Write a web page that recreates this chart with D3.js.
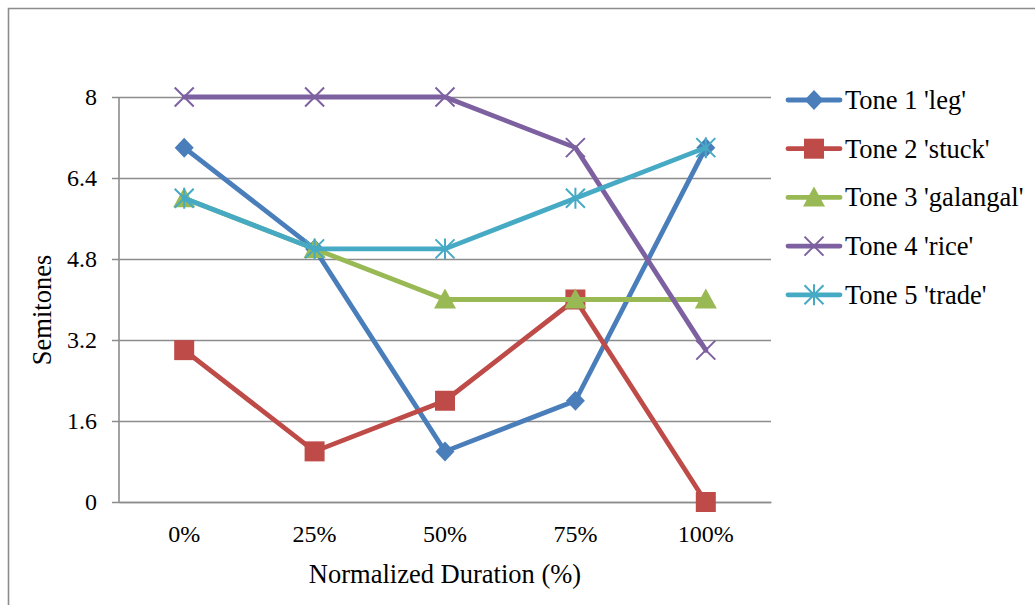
<!DOCTYPE html>
<html>
<head>
<meta charset="utf-8">
<script src="https://cdn.jsdelivr.net/npm/d3@7"></script>
<style>
  html, body { margin: 0; padding: 0; background: #fff; }
  svg { display: block; font-family: "Liberation Serif", "Times New Roman", serif; }
</style>
</head>
<body>
<svg id="chart" width="1035" height="605"></svg>
<script>
// Pitch contours of five tones, in semitones, at normalized duration points
const categories = ["0%", "25%", "50%", "75%", "100%"];
const seriesNames = ["Tone 1 'leg'", "Tone 2 'stuck'", "Tone 3 'galangal'", "Tone 4 'rice'", "Tone 5 'trade'"];
const tone1 = [7, 5, 1, 2, 7];
const tone2 = [3, 1, 2, 4, 0];
const tone3 = [6, 5, 4, 4, 4];
const tone4 = [8, 8, 8, 7, 3];
const tone5 = [6, 5, 5, 6, 7];
const yTicks = [0, 1.6, 3.2, 4.8, 6.4, 8];

const colors = ["#4A7EBB", "#BE4B48", "#98B954", "#7D60A0", "#46AAC5"];
const markers = ["diamond", "square", "triangle", "x", "star"];
const series = [tone1, tone2, tone3, tone4, tone5].map((values, i) => ({
  name: seriesNames[i], values, color: colors[i], marker: markers[i]
}));

const svg = d3.select("#chart");
const plot = { left: 119, right: 771, top: 97, bottom: 502 };
const axisGrey = "#8c8c8c";

// Outer chart frame
svg.append("path")
  .attr("d", "M8.5,610 V8.5 H1040")
  .attr("fill", "none").attr("stroke", axisGrey).attr("stroke-width", 1.6);

const x = d3.scaleBand().domain(categories).range([plot.left, plot.right]);
const y = d3.scaleLinear().domain([0, 8]).range([plot.bottom, plot.top]);
const cx = c => x(c) + x.bandwidth() / 2;

// Horizontal gridlines with short ticks left of the axis
const yAxis = d3.axisLeft(y).tickValues(yTicks).tickFormat(d3.format("~g"))
  .tickSize(-(plot.right - plot.left));
const gy = svg.append("g").attr("transform", `translate(${plot.left},0)`).call(yAxis);
gy.select(".domain").remove();
gy.selectAll(".tick line").attr("stroke", axisGrey).attr("stroke-width", 1.6)
  .attr("x1", -7);
gy.selectAll(".tick text").attr("font-size", 24).attr("fill", "#000")
  .attr("font-family", "Liberation Serif").attr("x", -22).attr("dy", "0.33em");

// Vertical value axis line
svg.append("line")
  .attr("x1", plot.left).attr("x2", plot.left)
  .attr("y1", plot.top).attr("y2", plot.bottom)
  .attr("stroke", axisGrey).attr("stroke-width", 1.6);

// Category axis
const xAxis = d3.axisBottom(x).tickSize(0);
const gx = svg.append("g").attr("transform", `translate(0,${plot.bottom})`).call(xAxis);
gx.select(".domain").attr("stroke", axisGrey).attr("stroke-width", 1.6);
gx.selectAll(".tick text").attr("font-size", 24).attr("fill", "#000")
  .attr("font-family", "Liberation Serif").attr("y", 40).attr("dy", 0);

// Axis titles
svg.append("text").attr("x", 445).attr("y", 583).attr("text-anchor", "middle")
  .attr("font-size", 26.5).text("Normalized Duration (%)");
svg.append("text").attr("transform", "translate(51,310) rotate(-90)")
  .attr("text-anchor", "middle").attr("font-size", 26.5).text("Semitones");

// Marker drawing
function drawMarker(g, type, color) {
  switch (type) {
    case "diamond":
      g.append("path").attr("d", "M0,-10 L9.5,0 L0,10 L-9.5,0 Z").attr("fill", color);
      break;
    case "square":
      g.append("rect").attr("x", -10).attr("y", -10).attr("width", 20).attr("height", 20)
        .attr("fill", color);
      break;
    case "triangle":
      g.append("path").attr("d", "M0,-11 L11,9 L-11,9 Z").attr("fill", color);
      break;
    case "x":
      g.append("path").attr("d", "M-9.5,-9.5 L9.5,9.5 M-9.5,9.5 L9.5,-9.5")
        .attr("stroke", color).attr("stroke-width", 2).attr("fill", "none");
      break;
    case "star":
      g.append("path").attr("d", "M-9.5,-9.5 L9.5,9.5 M-9.5,9.5 L9.5,-9.5 M0,-10.5 V10.5")
        .attr("stroke", color).attr("stroke-width", 2).attr("fill", "none");
      break;
  }
}

const line = d3.line().x((d, i) => cx(categories[i])).y(d => y(d));

series.forEach(s => {
  const g = svg.append("g");
  g.append("path").datum(s.values).attr("d", line)
    .attr("fill", "none").attr("stroke", s.color).attr("stroke-width", 4.8)
    .attr("stroke-linejoin", "round").attr("stroke-linecap", "round");
  s.values.forEach((v, i) => {
    const m = g.append("g").attr("transform", `translate(${cx(categories[i])},${y(v)})`);
    drawMarker(m, s.marker, s.color);
  });
});

// Legend
const legend = svg.append("g");
series.forEach((s, i) => {
  const ly = 100 + i * 48.7;
  const row = legend.append("g").attr("transform", `translate(0,${ly})`);
  row.append("line").attr("x1", 788).attr("x2", 840).attr("y1", 0).attr("y2", 0)
    .attr("stroke", s.color).attr("stroke-width", 4.8).attr("stroke-linecap", "round");
  const m = row.append("g").attr("transform", "translate(814,0)");
  drawMarker(m, s.marker, s.color);
  row.append("text").attr("x", 845).attr("y", 9).attr("font-size", 26.5).text(s.name);
});
</script>
</body>
</html>
